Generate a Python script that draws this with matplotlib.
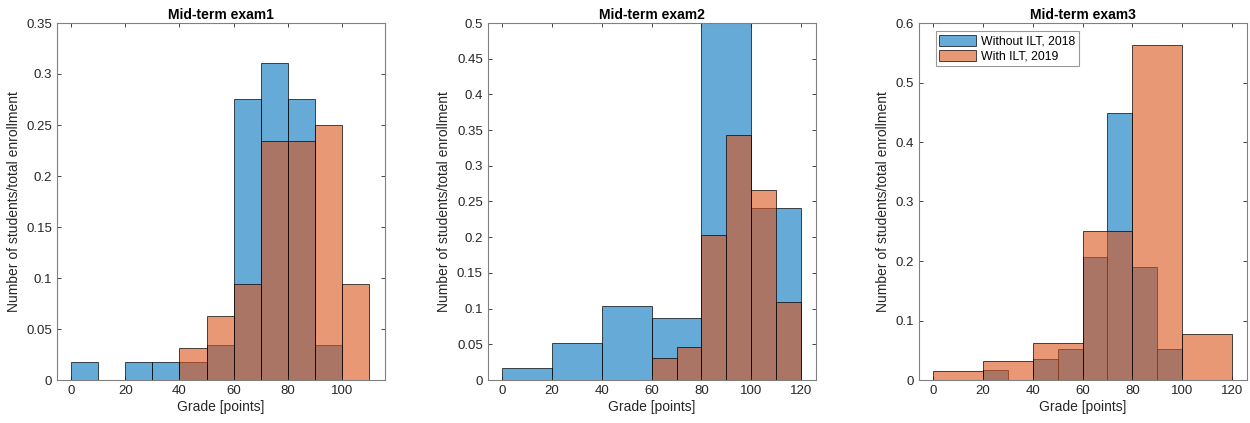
import matplotlib
matplotlib.use('Agg')
import matplotlib.pyplot as plt
import numpy as np

plt.rcParams['font.family'] = ['Liberation Sans', 'DejaVu Sans']

# bin edges and heights (fraction of enrolment)
exam1_2018_edges = [0, 10, 20, 30, 40, 50, 60, 70, 80, 90, 100]
exam1_2018_vals = [0.0172, 0.0, 0.0172, 0.0172, 0.0172, 0.0345, 0.2759, 0.3103, 0.2759, 0.0345]
exam1_2019_edges = [40, 50, 60, 70, 80, 90, 100, 110]
exam1_2019_vals = [0.0313, 0.0625, 0.0938, 0.2344, 0.2344, 0.25, 0.0938]

exam2_2018_edges = [0, 20, 40, 60, 80, 100, 120]
exam2_2018_vals = [0.0172, 0.0517, 0.1034, 0.0862, 0.5, 0.2414]
exam2_2019_edges = [60, 70, 80, 90, 100, 110, 120]
exam2_2019_vals = [0.0313, 0.0469, 0.2031, 0.3438, 0.2656, 0.1094]

exam3_2018_edges = [20, 30, 40, 50, 60, 70, 80, 90, 100]
exam3_2018_vals = [0.0172, 0.0, 0.0345, 0.0517, 0.2069, 0.4483, 0.1897, 0.0517]
exam3_2019_edges = [0, 20, 40, 60, 80, 100, 120]
exam3_2019_vals = [0.0156, 0.0313, 0.0625, 0.25, 0.5625, 0.0781]

titles = ['Mid-term exam1', 'Mid-term exam2', 'Mid-term exam3']
labels = ['Without ILT, 2018', 'With ILT, 2019']
ylims = [0.35, 0.5, 0.6]
ytick_steps = [0.05, 0.05, 0.1]
xlims = [(-5.2, 115.9), (-5.9, 125.9), (-5.8, 126.1)]
xticks = [[0, 20, 40, 60, 80, 100], [0, 20, 40, 60, 80, 100, 120], [0, 20, 40, 60, 80, 100, 120]]

data = [(exam1_2018_edges, exam1_2018_vals, exam1_2019_edges, exam1_2019_vals),
        (exam2_2018_edges, exam2_2018_vals, exam2_2019_edges, exam2_2019_vals),
        (exam3_2018_edges, exam3_2018_vals, exam3_2019_edges, exam3_2019_vals)]

blue = (0.0, 0.447, 0.741, 0.6)
orange = (0.85, 0.325, 0.098, 0.6)
axcol = '#262626'

fig = plt.figure(figsize=(12.5, 4.23), dpi=100)
lefts = [57, 487.7, 919]
W, H = 1250., 423.

for i in range(3):
    ax = fig.add_axes([lefts[i] / W, (H - 380) / H, 328 / W, (380 - 23) / H])
    e18, v18, e19, v19 = data[i]
    for edges, vals, col, lab in [(e18, v18, blue, labels[0]), (e19, v19, orange, labels[1])]:
        edges = np.array(edges, dtype=float)
        vals = np.array(vals)
        keep = vals > 0
        ax.bar(edges[:-1][keep], vals[keep], width=np.diff(edges)[keep], align='edge',
               color=col, edgecolor=(0, 0, 0, 0.7), linewidth=0.7, label=lab)
    ax.set_xlim(*xlims[i])
    ax.set_ylim(0, ylims[i])
    ax.set_xticks(xticks[i])
    ax.set_yticks(np.arange(0, ylims[i] + 1e-9, ytick_steps[i]))
    ax.yaxis.set_major_formatter(matplotlib.ticker.FuncFormatter(lambda v, p: ('%g' % round(v, 3))))
    ax.tick_params(direction='in', top=True, right=True, length=3, width=0.6,
                   colors=axcol, labelsize=9.5, labelcolor=axcol)
    for sp in ax.spines.values():
        sp.set_color('#808080')
        sp.set_linewidth(0.8)
    ax.set_title(titles[i], fontsize=10, fontweight='bold', pad=3)
    ax.set_xlabel('Grade [points]', fontsize=10, color=axcol, labelpad=2)
    ax.set_ylabel('Number of students/total enrollment', fontsize=10, color=axcol, labelpad=4)
    if i == 2:
        leg = ax.legend(loc='upper left', bbox_to_anchor=(16.5 / 328, 1 - 8 / 357),
                        fontsize=8.8, frameon=True, fancybox=False,
                        edgecolor='#808080', handlelength=3.0, handleheight=1.0,
                        borderaxespad=0, borderpad=0.3, labelspacing=0.2, handletextpad=0.4)
        leg.get_frame().set_linewidth(0.8)

fig.savefig('out.png', dpi=100)
